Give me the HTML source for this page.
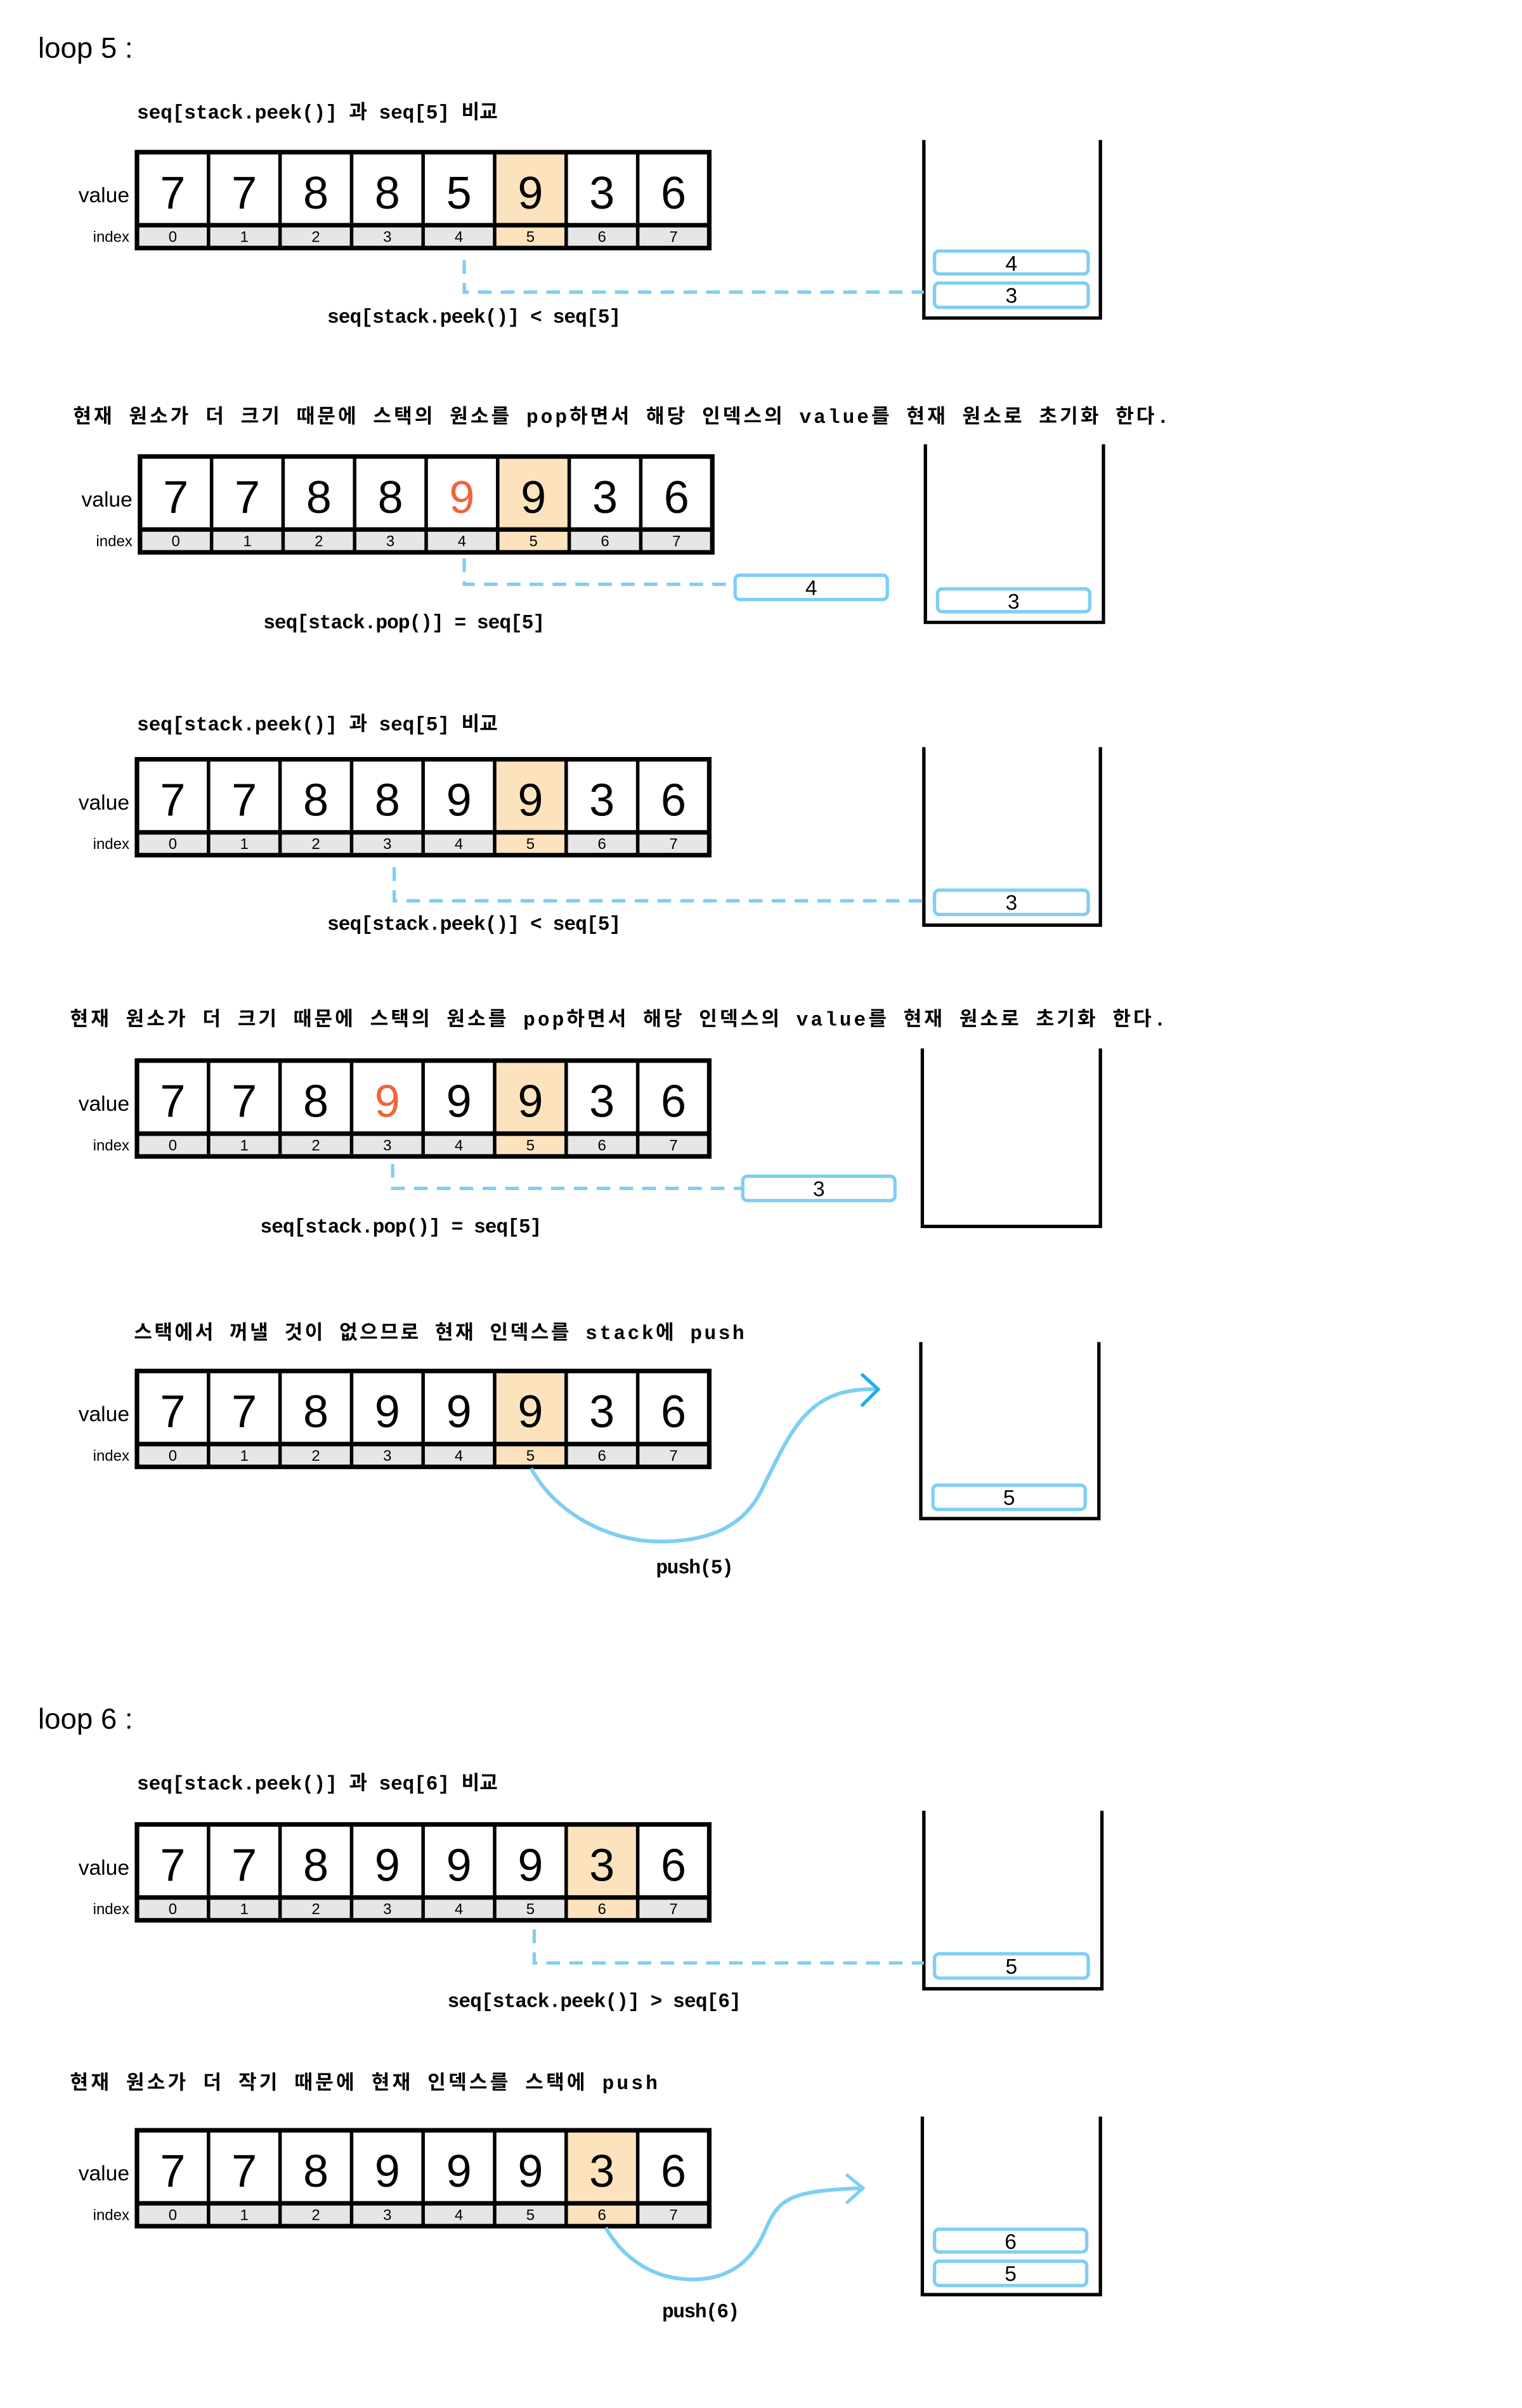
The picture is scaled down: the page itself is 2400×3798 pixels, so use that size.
<!DOCTYPE html>
<html><head><meta charset="utf-8"><style>
html,body{margin:0;padding:0;background:#fff}
svg{display:block}
.d{font-family:"Liberation Sans",sans-serif;font-size:30px;text-anchor:middle}
.i{font-family:"Liberation Sans",sans-serif;font-size:10px;text-anchor:middle}
.lb{font-family:"Liberation Sans",sans-serif;text-anchor:end}
.c{font-family:"Liberation Mono","Noto Sans CJK KR",monospace;font-size:13px;font-weight:bold}
.s{font-family:"Liberation Sans",sans-serif;font-size:14px;text-anchor:middle}
.h{font-family:"Liberation Sans",sans-serif;font-size:19px}
.it{fill:#fff;stroke:#7ecef4;stroke-width:2.2}
.st{fill:none;stroke:#000;stroke-width:2.2}
.ds{fill:none;stroke:#7ecef4;stroke-width:2.2;stroke-dasharray:9 6}
.cv{fill:none;stroke:#7ecef4;stroke-width:2.5}
.r{fill:#f0643c}
</style></head><body>
<svg width="2400" height="3798" viewBox="0 0 1000 1582.5" xmlns="http://www.w3.org/2000/svg">
<defs>
<g id="grid">
<rect x="0" y="0" width="376" height="63" fill="#fff"/>
<rect x="0" y="48" width="376" height="15" fill="#e6e6e6"/>
</g>
<g id="lines" fill="none" stroke="#000">
<rect x="0" y="0" width="376" height="63" stroke-width="3"/>
<line x1="0" y1="48" x2="376" y2="48" stroke-width="3"/>
<path d="M47 0V63M94 0V63M141 0V63M188 0V63M235 0V63M282 0V63M329 0V63" stroke-width="2.3"/>
</g>
</defs>

<text class="h" x="25" y="38">loop 5 :</text>
<text class="h" x="25" y="1136">loop 6 :</text>

<!-- S1 -->
<text class="c" x="90" y="78" textLength="237" lengthAdjust="spacing">seq[stack.peek()] 과 seq[5] 비교</text>
<g transform="translate(90,100)">
<use href="#grid"/><rect x="235" y="0" width="47" height="63" fill="#fce3bd"/><use href="#lines"/>
<text class="lb" x="-5" y="33" font-size="14">value</text><text class="lb" x="-5" y="59" font-size="10">index</text>
<text class="d" y="37"><tspan x="23.5">7</tspan><tspan x="70.5">7</tspan><tspan x="117.5">8</tspan><tspan x="164.5">8</tspan><tspan x="211.5">5</tspan><tspan x="258.5">9</tspan><tspan x="305.5">3</tspan><tspan x="352.5">6</tspan></text>
<text class="i" y="59"><tspan x="23.5">0</tspan><tspan x="70.5">1</tspan><tspan x="117.5">2</tspan><tspan x="164.5">3</tspan><tspan x="211.5">4</tspan><tspan x="258.5">5</tspan><tspan x="305.5">6</tspan><tspan x="352.5">7</tspan></text>
</g>
<path class="st" d="M607 92V209H723V92"/>
<rect class="it" x="614" y="165" width="101" height="15" rx="3"/><text class="s" x="664.5" y="178">4</text>
<rect class="it" x="614" y="186" width="101" height="16" rx="3"/><text class="s" x="664.5" y="199">3</text>
<path class="ds" d="M305 171V192H607"/>
<text class="c" x="215" y="212" textLength="193" lengthAdjust="spacing">seq[stack.peek()] &lt; seq[5]</text>

<!-- S2 -->
<text class="c" x="48" y="278" textLength="720" lengthAdjust="spacing">현재 원소가 더 크기 때문에 스택의 원소를 pop하면서 해당 인덱스의 value를 현재 원소로 초기화 한다.</text>
<g transform="translate(92,300)">
<use href="#grid"/><rect x="235" y="0" width="47" height="63" fill="#fce3bd"/><use href="#lines"/>
<text class="lb" x="-5" y="33" font-size="14">value</text><text class="lb" x="-5" y="59" font-size="10">index</text>
<text class="d" y="37"><tspan x="23.5">7</tspan><tspan x="70.5">7</tspan><tspan x="117.5">8</tspan><tspan x="164.5">8</tspan><tspan x="211.5" class="r">9</tspan><tspan x="258.5">9</tspan><tspan x="305.5">3</tspan><tspan x="352.5">6</tspan></text>
<text class="i" y="59"><tspan x="23.5">0</tspan><tspan x="70.5">1</tspan><tspan x="117.5">2</tspan><tspan x="164.5">3</tspan><tspan x="211.5">4</tspan><tspan x="258.5">5</tspan><tspan x="305.5">6</tspan><tspan x="352.5">7</tspan></text>
</g>
<path class="st" d="M608 292V409H725V292"/>
<rect class="it" x="616" y="387" width="100" height="15" rx="3"/><text class="s" x="666" y="400">3</text>
<rect class="it" x="483" y="378" width="100" height="16" rx="3"/><text class="s" x="533" y="391">4</text>
<path class="ds" d="M305 367V384H483"/>
<text class="c" x="173" y="413" textLength="185" lengthAdjust="spacing">seq[stack.pop()] = seq[5]</text>

<!-- S3 -->
<text class="c" x="90" y="480" textLength="237" lengthAdjust="spacing">seq[stack.peek()] 과 seq[5] 비교</text>
<g transform="translate(90,499)">
<use href="#grid"/><rect x="235" y="0" width="47" height="63" fill="#fce3bd"/><use href="#lines"/>
<text class="lb" x="-5" y="33" font-size="14">value</text><text class="lb" x="-5" y="59" font-size="10">index</text>
<text class="d" y="37"><tspan x="23.5">7</tspan><tspan x="70.5">7</tspan><tspan x="117.5">8</tspan><tspan x="164.5">8</tspan><tspan x="211.5">9</tspan><tspan x="258.5">9</tspan><tspan x="305.5">3</tspan><tspan x="352.5">6</tspan></text>
<text class="i" y="59"><tspan x="23.5">0</tspan><tspan x="70.5">1</tspan><tspan x="117.5">2</tspan><tspan x="164.5">3</tspan><tspan x="211.5">4</tspan><tspan x="258.5">5</tspan><tspan x="305.5">6</tspan><tspan x="352.5">7</tspan></text>
</g>
<path class="st" d="M607 491V608H723V491"/>
<rect class="it" x="614" y="585" width="101" height="16" rx="3"/><text class="s" x="664.5" y="598">3</text>
<path class="ds" d="M259 570V592H607"/>
<text class="c" x="215" y="611" textLength="193" lengthAdjust="spacing">seq[stack.peek()] &lt; seq[5]</text>

<!-- S4 -->
<text class="c" x="46" y="674" textLength="720" lengthAdjust="spacing">현재 원소가 더 크기 때문에 스택의 원소를 pop하면서 해당 인덱스의 value를 현재 원소로 초기화 한다.</text>
<g transform="translate(90,697)">
<use href="#grid"/><rect x="235" y="0" width="47" height="63" fill="#fce3bd"/><use href="#lines"/>
<text class="lb" x="-5" y="33" font-size="14">value</text><text class="lb" x="-5" y="59" font-size="10">index</text>
<text class="d" y="37"><tspan x="23.5">7</tspan><tspan x="70.5">7</tspan><tspan x="117.5">8</tspan><tspan x="164.5" class="r">9</tspan><tspan x="211.5">9</tspan><tspan x="258.5">9</tspan><tspan x="305.5">3</tspan><tspan x="352.5">6</tspan></text>
<text class="i" y="59"><tspan x="23.5">0</tspan><tspan x="70.5">1</tspan><tspan x="117.5">2</tspan><tspan x="164.5">3</tspan><tspan x="211.5">4</tspan><tspan x="258.5">5</tspan><tspan x="305.5">6</tspan><tspan x="352.5">7</tspan></text>
</g>
<path class="st" d="M606 689V806H723V689"/>
<rect class="it" x="488" y="773" width="100" height="16" rx="3"/><text class="s" x="538" y="786">3</text>
<path class="ds" d="M258 765V781H488"/>
<text class="c" x="171" y="810" textLength="185" lengthAdjust="spacing">seq[stack.pop()] = seq[5]</text>

<!-- S5 -->
<text class="c" x="88" y="880" textLength="401" lengthAdjust="spacing">스택에서 꺼낼 것이 없으므로 현재 인덱스를 stack에 push</text>
<g transform="translate(90,901)">
<use href="#grid"/><rect x="235" y="0" width="47" height="63" fill="#fce3bd"/><use href="#lines"/>
<text class="lb" x="-5" y="33" font-size="14">value</text><text class="lb" x="-5" y="59" font-size="10">index</text>
<text class="d" y="37"><tspan x="23.5">7</tspan><tspan x="70.5">7</tspan><tspan x="117.5">8</tspan><tspan x="164.5">9</tspan><tspan x="211.5">9</tspan><tspan x="258.5">9</tspan><tspan x="305.5">3</tspan><tspan x="352.5">6</tspan></text>
<text class="i" y="59"><tspan x="23.5">0</tspan><tspan x="70.5">1</tspan><tspan x="117.5">2</tspan><tspan x="164.5">3</tspan><tspan x="211.5">4</tspan><tspan x="258.5">5</tspan><tspan x="305.5">6</tspan><tspan x="352.5">7</tspan></text>
</g>
<path class="st" d="M605 882V998H722V882"/>
<rect class="it" x="613" y="976" width="100" height="16" rx="3"/><text class="s" x="663" y="989">5</text>
<path class="cv" d="M349 965C365 995 400 1012 430 1013C470 1014 490 1000 500 980C520 940 530 912 575 913"/>
<path d="M566 903L577 913L566 924" fill="none" stroke="#1ab0e8" stroke-width="2.2"/>
<text class="c" x="431" y="1034" textLength="51" lengthAdjust="spacing">push(5)</text>

<!-- S6 -->
<text class="c" x="90" y="1176" textLength="237" lengthAdjust="spacing">seq[stack.peek()] 과 seq[6] 비교</text>
<g transform="translate(90,1199)">
<use href="#grid"/><rect x="282" y="0" width="47" height="63" fill="#fce3bd"/><use href="#lines"/>
<text class="lb" x="-5" y="33" font-size="14">value</text><text class="lb" x="-5" y="59" font-size="10">index</text>
<text class="d" y="37"><tspan x="23.5">7</tspan><tspan x="70.5">7</tspan><tspan x="117.5">8</tspan><tspan x="164.5">9</tspan><tspan x="211.5">9</tspan><tspan x="258.5">9</tspan><tspan x="305.5">3</tspan><tspan x="352.5">6</tspan></text>
<text class="i" y="59"><tspan x="23.5">0</tspan><tspan x="70.5">1</tspan><tspan x="117.5">2</tspan><tspan x="164.5">3</tspan><tspan x="211.5">4</tspan><tspan x="258.5">5</tspan><tspan x="305.5">6</tspan><tspan x="352.5">7</tspan></text>
</g>
<path class="st" d="M607 1190V1307H724V1190"/>
<rect class="it" x="614" y="1284" width="101" height="16" rx="3"/><text class="s" x="664.5" y="1297">5</text>
<path class="ds" d="M351 1268V1290H607"/>
<text class="c" x="294" y="1319" textLength="193" lengthAdjust="spacing">seq[stack.peek()] &gt; seq[6]</text>

<!-- S7 -->
<text class="c" x="46" y="1373" textLength="386" lengthAdjust="spacing">현재 원소가 더 작기 때문에 현재 인덱스를 스택에 push</text>
<g transform="translate(90,1400)">
<use href="#grid"/><rect x="282" y="0" width="47" height="63" fill="#fce3bd"/><use href="#lines"/>
<text class="lb" x="-5" y="33" font-size="14">value</text><text class="lb" x="-5" y="59" font-size="10">index</text>
<text class="d" y="37"><tspan x="23.5">7</tspan><tspan x="70.5">7</tspan><tspan x="117.5">8</tspan><tspan x="164.5">9</tspan><tspan x="211.5">9</tspan><tspan x="258.5">9</tspan><tspan x="305.5">3</tspan><tspan x="352.5">6</tspan></text>
<text class="i" y="59"><tspan x="23.5">0</tspan><tspan x="70.5">1</tspan><tspan x="117.5">2</tspan><tspan x="164.5">3</tspan><tspan x="211.5">4</tspan><tspan x="258.5">5</tspan><tspan x="305.5">6</tspan><tspan x="352.5">7</tspan></text>
</g>
<path class="st" d="M606 1391V1508H723V1391"/>
<rect class="it" x="614" y="1465" width="100" height="15" rx="3"/><text class="s" x="664" y="1478">6</text>
<rect class="it" x="614" y="1486" width="100" height="16" rx="3"/><text class="s" x="664" y="1499">5</text>
<path class="cv" d="M398 1464C410 1485 430 1498 455 1498C480 1498 495 1485 503 1465C512 1445 518 1440 565 1438"/>
<path d="M556 1429L567 1438L556 1448" fill="none" stroke="#7ecef4" stroke-width="2.2"/>
<text class="c" x="435" y="1523" textLength="51" lengthAdjust="spacing">push(6)</text>
</svg>
</body></html>
